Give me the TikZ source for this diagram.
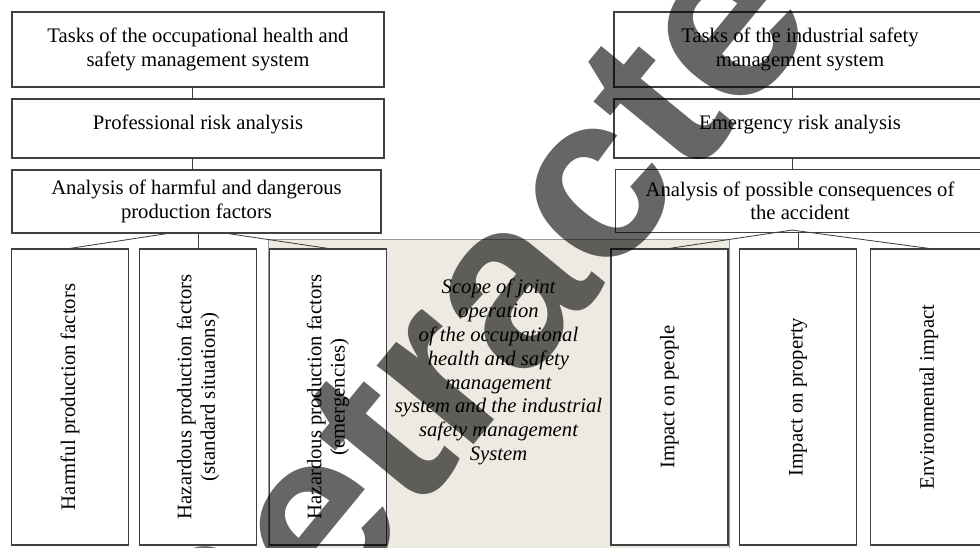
\documentclass[tikz,border=0pt]{standalone}
\usepackage{fontspec}
\setmainfont{Liberation Serif}
\newfontfamily\stampfont{Liberation Sans}
\usepackage{xcolor}
\usetikzlibrary{calc}
\definecolor{jointbg}{RGB}{237,234,225}

\begin{document}
\begin{tikzpicture}[
    x=0.025cm, y=-0.025cm,
    font=\fontsize{14.7}{16.6}\selectfont,
    taskbox/.style={
        rectangle,
        draw=black!75,
        line width=0.8pt,
        fill=white,
        minimum width=9.3cm,
        minimum height=1.875cm,
        align=center,
        inner sep=2pt
    },
    riskbox/.style={taskbox, minimum height=1.475cm, text depth=9pt},
    factbox/.style={taskbox, minimum width=9.225cm, minimum height=1.575cm},
    leafbox/.style={taskbox, rotate=90, minimum width=7.4cm, minimum height=2.925cm},
    jointarea/.style={
        rectangle,
        draw=black!40,
        line width=0.6pt,
        fill=jointbg,
        minimum width=11.525cm,
        minimum height=8.05cm
    },
    jointtext/.style={
        align=center,
        font=\fontsize{14.7}{17}\selectfont\itshape
    },
    stamp/.style={
        anchor=base,
        rotate=50.6,
        inner sep=0pt,
        text=black,
        text opacity=0.6,
        font=\stampfont\bfseries\fontsize{168}{168}\selectfont
    },
    link/.style={draw=black!75, line width=0.6pt}
]
    \useasboundingbox (0,0) rectangle (980,547);
    \clip (0,0) rectangle (980,547);

    % Shared area behind the middle columns
    \node[jointarea] (joint) at (498.5,400) {};

    % Left column: occupational health and safety
    \node[taskbox] (ohs) at (198,49.5) {Tasks of the occupational health and\\safety management system};
    \node[riskbox] (prof) at (198,128.5) {Professional risk analysis};
    \node[factbox] (haz) at (196.5,201.5) {Analysis of harmful and dangerous\\production factors};

    % Right column: industrial safety
    \node[taskbox] (isms) at (800,49.5) {Tasks of the industrial safety\\management system};
    \node[riskbox] (emerg) at (800,128.5) {Emergency risk analysis};
    \node[factbox] (cons) at (800,201) {Analysis of possible consequences of\\the accident};

    % Bottom row
    \node[leafbox] (hpf) at (70,397) {Harmful production factors};
    \node[leafbox] (hpfs) at (198,397) {Hazardous production factors\\(standard situations)};
    \node[leafbox] (hpfe) at (328,397) {Hazardous production factors\\(emergencies)};
    \node[leafbox] (ppl) at (669.5,397) {Impact on people};
    \node[leafbox] (prop) at (798,397) {Impact on property};
    \node[leafbox] (env) at (929,397) {Environmental impact};

    \node[jointtext] (jointlbl) at (498.5,372) {Scope of joint\\operation\\of the occupational\\health and safety\\management\\system and the industrial\\safety management\\System};

    % Links
    \draw[link] ($(ohs.south)+(-6,0)$) -- ($(prof.north)+(-6,0)$);
    \draw[link] ($(prof.south)+(-6,0)$) -- ($(haz.north)+(-4.5,0)$);
    \draw[link] ($(isms.south)+(-8,0)$) -- ($(emerg.north)+(-8,0)$);
    \draw[link] ($(emerg.south)+(-8,0)$) -- ($(cons.north)+(-8,0)$);

    \draw[link] ($(haz.south)+(-29.5,0)$) -- (hpf.east);
    \draw[link] (hpfs.east) -- (hpfs.east |- haz.south);
    \draw[link] ($(haz.south)+(31.5,0)$) -- (hpfe.east);

    \coordinate (apex) at ($(cons.south)+(-8,-3)$);
    \draw[link] (ppl.east) -- (apex) -- (env.east);
    \draw[link] (prop.east) -- (prop.east |- cons.south);

    % Stamp
    \node[stamp] (wm) at (568,331) {Retracted};
\end{tikzpicture}
\end{document}
